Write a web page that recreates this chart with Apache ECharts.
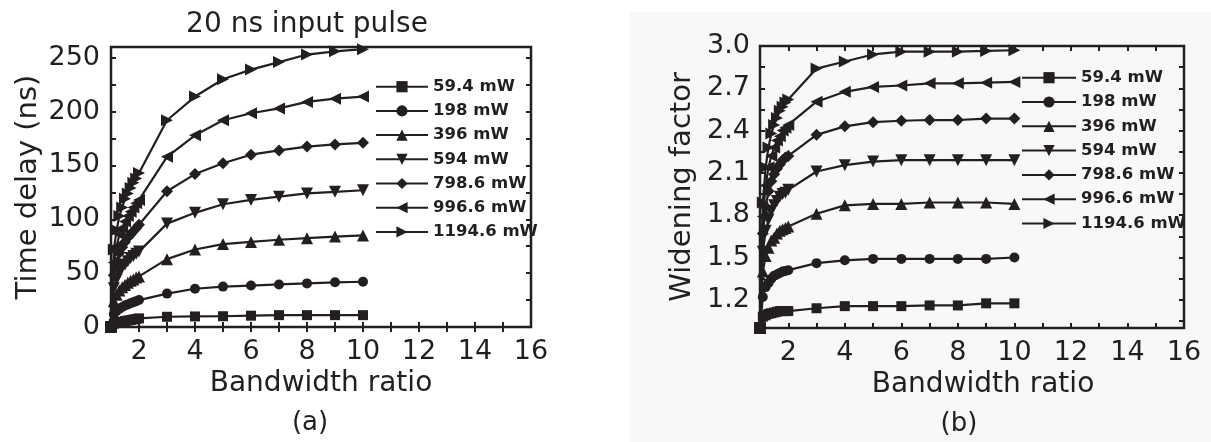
<!DOCTYPE html>
<html>
<head>
<meta charset="utf-8">
<script src="https://cdn.jsdelivr.net/npm/echarts@6/dist/echarts.min.js"></script>
<style>
  html, body { margin: 0; padding: 0; background: #ffffff; }
  #chart { width: 1211px; height: 442px; }
</style>
</head>
<body>
<div id="chart"></div>
<script>
// Bandwidth ratio samples shared by every curve
const bandwidthRatio = [1, 1.1, 1.2, 1.3, 1.4, 1.5, 1.6, 1.7, 1.8, 1.9, 2, 3, 4, 5, 6, 7, 8, 9, 10];

// Pump powers (legend entries)
const pumpPowers = ['59.4 mW', '198 mW', '396 mW', '594 mW', '798.6 mW', '996.6 mW', '1194.6 mW'];

// (a) Time delay (ns) for each pump power
const delay59 = [0, 3, 4, 4.5, 5, 5.5, 6, 6.5, 7, 7.5, 8, 9.5, 9.8, 10, 10.5, 11, 11, 11, 11];
const delay198 = [0, 12, 15, 17, 18.5, 20, 21, 22, 23, 24, 25, 31, 35.5, 37.5, 38.5, 39.5, 40.5, 41.5, 42];
const delay396 = [0, 24, 30, 34, 37, 39, 41, 43, 44, 46, 47, 63, 72, 77, 79, 81, 82.5, 84, 85];
const delay594 = [0, 36, 44, 51, 55, 58, 61, 64, 66, 68, 70, 96, 106, 114, 118, 121, 124, 125.5, 127];
const delay799 = [0, 48, 60, 69, 74, 79, 83, 86, 89, 92, 95, 126, 142, 152, 160, 164, 167.5, 169.5, 171];
const delay997 = [0, 60, 75, 86, 92, 98, 103, 107, 111, 115, 118, 158, 178, 192, 198.5, 203, 209, 212, 214];
const delay1195 = [0, 72, 90, 103, 111, 119, 124, 129, 134, 138, 143, 192, 214, 230, 239, 246, 253, 256, 258];

// (b) Widening factor for each pump power
const widen59 = [1.0, 1.08, 1.09, 1.10, 1.105, 1.11, 1.115, 1.12, 1.12, 1.12, 1.12, 1.14, 1.155, 1.155, 1.155, 1.16, 1.16, 1.175, 1.175];
const widen198 = [1.0, 1.22, 1.29, 1.32, 1.35, 1.37, 1.38, 1.39, 1.40, 1.405, 1.41, 1.46, 1.48, 1.49, 1.49, 1.49, 1.49, 1.49, 1.5];
const widen396 = [1.0, 1.40, 1.51, 1.57, 1.62, 1.64, 1.67, 1.69, 1.70, 1.71, 1.72, 1.81, 1.87, 1.88, 1.88, 1.89, 1.89, 1.89, 1.88];
const widen594 = [1.0, 1.54, 1.69, 1.77, 1.83, 1.87, 1.90, 1.93, 1.95, 1.96, 1.98, 2.11, 2.155, 2.18, 2.19, 2.19, 2.19, 2.19, 2.19];
const widen799 = [1.0, 1.67, 1.86, 1.97, 2.04, 2.09, 2.13, 2.16, 2.19, 2.21, 2.22, 2.37, 2.43, 2.46, 2.47, 2.475, 2.475, 2.485, 2.485];
const widen997 = [1.0, 1.79, 2.01, 2.14, 2.22, 2.28, 2.33, 2.36, 2.40, 2.42, 2.44, 2.605, 2.675, 2.71, 2.72, 2.735, 2.735, 2.74, 2.745];
const widen1195 = [1.0, 1.89, 2.14, 2.28, 2.38, 2.44, 2.49, 2.54, 2.57, 2.60, 2.62, 2.84, 2.89, 2.94, 2.96, 2.96, 2.96, 2.965, 2.97];

// Tick labels and tick positions
const ratioTicks = [2, 4, 6, 8, 10, 12, 14, 16];
const ratioTickMarks = [2, 3, 4, 5, 6, 7, 8, 9, 10, 11, 12, 13, 14, 15];
const delayTicks = [0, 50, 100, 150, 200, 250];
const delayTickMarks = [25, 50, 75, 100, 125, 150, 175, 200, 225, 250];
const widenTicks = [1.2, 1.5, 1.8, 2.1, 2.4, 2.7, 3.0];
const widenTickMarks = [1.05, 1.2, 1.35, 1.5, 1.65, 1.8, 1.95, 2.1, 2.25, 2.4, 2.55, 2.7, 2.85];

const delaySets = [delay59, delay198, delay396, delay594, delay799, delay997, delay1195];
const widenSets = [widen59, widen198, widen396, widen594, widen799, widen997, widen1195];

// Marker shape per pump power
const markers = [
  { symbol: 'rect', size: 10, rotate: 0 },
  { symbol: 'circle', size: 10, rotate: 0 },
  { symbol: 'triangle', size: 12, rotate: 0 },
  { symbol: 'triangle', size: 12, rotate: 180 },
  { symbol: 'diamond', size: 12, rotate: 0 },
  { symbol: 'triangle', size: 12, rotate: 90 },
  { symbol: 'triangle', size: 12, rotate: -90 }
];

const INK = '#231f20';
const FONT = '"DejaVu Sans", sans-serif';
const tickStyle = { color: INK, width: 2 };

function makeSeries(sets, axisIdx) {
  return sets.map((vals, i) => ({
    type: 'line',
    name: pumpPowers[i],
    xAxisIndex: axisIdx,
    yAxisIndex: axisIdx,
    data: bandwidthRatio.map((x, j) => [x, vals[j]]),
    symbol: markers[i].symbol,
    symbolSize: markers[i].size,
    symbolRotate: markers[i].rotate,
    lineStyle: { color: INK, width: 2.2 },
    itemStyle: { color: INK, borderWidth: 0 },
    clip: false,
    emphasis: { disabled: true }
  }));
}

function xAxisPair(gridIndex) {
  const base = {
    gridIndex, type: 'value', min: 1, max: 16,
    axisLine: { show: false }, splitLine: { show: false },
    axisTick: { inside: true, length: 5, lineStyle: tickStyle, customValues: ratioTickMarks }
  };
  return [
    Object.assign({}, base, {
      position: 'bottom',
      name: 'Bandwidth ratio', nameLocation: 'middle', nameGap: 37,
      nameTextStyle: { fontFamily: FONT, fontSize: 28, color: INK, padding: gridIndex === 1 ? [0, 0, 0, 22] : 0 },
      axisLabel: { margin: 11, fontFamily: FONT, fontSize: 27, color: INK, customValues: ratioTicks }
    }),
    Object.assign({}, base, { position: 'top', axisLabel: { show: false } })
  ];
}

function yAxisPair(gridIndex, min, max, labelValues, tickValues, name, nameGap, labelFmt, margin) {
  const base = {
    gridIndex, type: 'value', min, max,
    axisLine: { show: false }, splitLine: { show: false },
    axisTick: { inside: true, length: 5, lineStyle: tickStyle, customValues: tickValues }
  };
  return [
    Object.assign({}, base, {
      position: 'left',
      name, nameLocation: 'middle', nameGap, nameRotate: 90,
      nameTextStyle: { fontFamily: FONT, fontSize: 29, color: INK },
      axisLabel: { margin, fontFamily: FONT, fontSize: 27, color: INK, customValues: labelValues, formatter: labelFmt }
    }),
    Object.assign({}, base, { position: 'right', axisLabel: { show: false } })
  ];
}

const legendText = { fontFamily: FONT, fontSize: 16.5, fontWeight: 'bold', color: INK, lineHeight: 18 };

const chart = echarts.init(document.getElementById('chart'), null, { renderer: 'canvas' });

const option = {
  animation: false,
  backgroundColor: '#ffffff',
  title: {
    text: '20 ns input pulse', left: 307, top: 11, textAlign: 'center', padding: 0,
    textStyle: { fontFamily: FONT, fontSize: 28, fontWeight: 'normal', color: INK }
  },
  graphic: [
    { type: 'rect', z: -10, shape: { x: 630, y: 12, width: 581, height: 430 }, style: { fill: '#f8f8f8' }, silent: true },
    { type: 'text', x: 310, y: 423, style: { text: '(a)', font: '26px "DejaVu Sans"', fill: INK, textAlign: 'center', textVerticalAlign: 'middle' } },
    { type: 'text', x: 959, y: 424, style: { text: '(b)', font: '26px "DejaVu Sans"', fill: INK, textAlign: 'center', textVerticalAlign: 'middle' } }
  ],
  grid: [
    { left: 111, top: 47, width: 420, height: 280, show: true, borderColor: INK, borderWidth: 2.5, backgroundColor: 'transparent' },
    { left: 760, top: 46, width: 424, height: 282, show: true, borderColor: INK, borderWidth: 2.5, backgroundColor: 'transparent' }
  ],
  legend: [
    {
      orient: 'vertical', left: 370, top: 72.7, itemWidth: 52, itemHeight: 14, itemGap: 6.2,
      selectedMode: false, data: pumpPowers, textStyle: legendText
    },
    {
      orient: 'vertical', left: 1016, top: 63.7, itemWidth: 54, itemHeight: 14, itemGap: 6.3,
      selectedMode: false, data: pumpPowers, textStyle: legendText
    }
  ],
  xAxis: [...xAxisPair(0), ...xAxisPair(1)],
  yAxis: [
    ...yAxisPair(0, 0, 260, delayTicks, delayTickMarks, 'Time delay (ns)', 68, v => String(v), 11),
    ...yAxisPair(1, 1.0, 3.0, widenTicks, widenTickMarks, 'Widening factor', 63, v => Number(v).toFixed(1), 10)
  ],
  series: [
    ...makeSeries(delaySets, 0),
    ...makeSeries(widenSets, 2)
  ]
};

chart.setOption(option);
</script>
</body>
</html>
